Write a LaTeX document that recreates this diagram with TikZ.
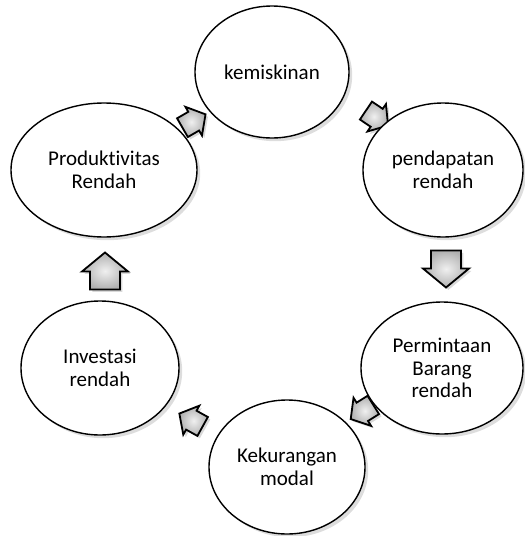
\documentclass[tikz,border=0pt]{standalone}
\usepackage{fontspec}
\setmainfont{Carlito}[Ligatures=NoCommon]
\usetikzlibrary{shapes.geometric,shadows}
\begin{document}
\begin{tikzpicture}[x=0.5pt,y=-0.5pt,
  cyc/.style={ellipse, draw=black, line width=0.7pt, fill=white, inner sep=0pt,
    align=center, font=\fontsize{10.5}{11.3}\selectfont,
    drop shadow={shadow xshift=1.6pt, shadow yshift=-1.6pt, fill=black!22, opacity=0.6}},
  arrowstyle/.style={draw=black, line width=0.9pt, line join=miter,
    inner color=gray!12, outer color=gray!62,
    drop shadow={shadow xshift=1.2pt, shadow yshift=-1.2pt, fill=black!25, opacity=0.6}},
  blockarrow/.pic={\path[arrowstyle] (-15,18.5) -- (-15,0.5) -- (-23,0.5) -- (0,-18.5)
      -- (23,0.5) -- (15,0.5) -- (15,18.5) -- cycle;}
]
\useasboundingbox (0,0) rectangle (525,536);
% block arrows
\pic[rotate=-60, scale=0.72] (a1) at (194,121) {blockarrow};
\pic[rotate=-124, scale=0.72] (a2) at (377,118) {blockarrow};
\pic[rotate=180] (a3) at (446,269) {blockarrow};
\pic[rotate=122, scale=0.72] (a4) at (362,412) {blockarrow};
\pic[rotate=61, scale=0.72] (a5) at (191,420) {blockarrow};
\pic (a6) at (105,271) {blockarrow};
% cycle ellipses
\node[cyc, minimum width=77pt, minimum height=66pt] (kem) at (272,72) {kemiskinan};
\node[cyc, minimum width=80pt, minimum height=67pt] (pen) at (443,170) {pendapatan\\rendah};
\node[cyc, minimum width=81pt, minimum height=66pt] (per) at (442,368) {Permintaan\\Barang\\rendah};
\node[cyc, minimum width=78pt, minimum height=67pt] (kek) at (287,467) {Kekurangan\\modal};
\node[cyc, minimum width=79pt, minimum height=67pt] (inv) at (100,368) {Investasi\\rendah};
\node[cyc, minimum width=93pt, minimum height=67pt] (pro) at (104,170) {Produktivitas\\Rendah};
\end{tikzpicture}
\end{document}
